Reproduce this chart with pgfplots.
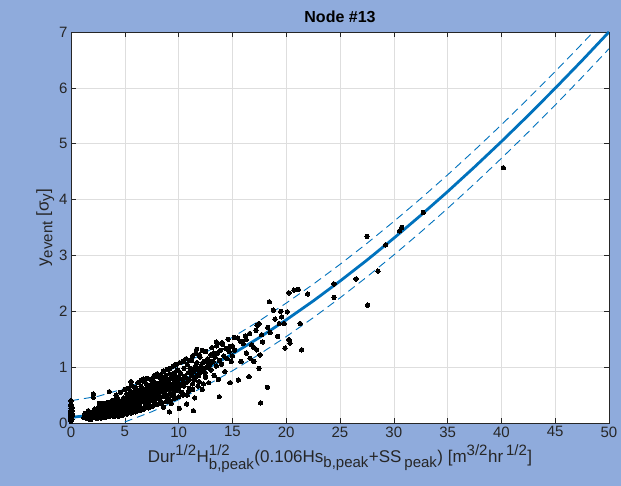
\documentclass[border=0pt]{standalone}
\usepackage{pgfplots}
\pgfplotsset{compat=1.18}
\usepackage{amsmath}
\usepackage{fontspec}
\setmainfont{Liberation Sans}
\DeclareMathSizes{17}{17}{15}{12}
\definecolor{bgc}{RGB}{143,171,220}
\definecolor{mblue}{RGB}{0,114,189}
\definecolor{axc}{RGB}{38,38,38}
\begin{document}
\begin{tikzpicture}
\fill[bgc] (0,0) rectangle (621pt,486pt);
\begin{axis}[at={(71pt,63pt)}, anchor=south west, scale only axis,
  width=538pt, height=391pt,
  xmin=0, xmax=50, ymin=0, ymax=7,
  xtick={0,5,...,50}, ytick={0,1,...,7},
  grid=major, grid style={color=black!13, line width=0.6pt},
  axis background/.style={fill=white},
  tick align=inside, major tick length=5pt,
  axis line style={axc, line width=0.6pt},
  tick style={axc, line width=0.6pt},
  /pgf/number format/assume math mode=true,
  ticklabel style={font=\fontsize{15}{18}\selectfont, text=axc},
  label style={font=\fontsize{17}{20}\selectfont, text=axc},
  xlabel style={yshift=-1pt},
  ylabel style={yshift=-2pt},
  title style={font=\fontsize{16}{19}\selectfont\bfseries},
  title={Node \#13},
  xlabel={Dur$^{\text{1/2}}$H$^{\text{1/2}}_{\text{b,peak}}$(0.106Hs$_{\text{b,peak}}$+SS\,$_{\text{peak}}$) [m$^{\text{3/2}}$hr\,$^{\text{1/2}}$]},
  ylabel={y$_{\text{event}}$ [σ$_{\text{y}}$]},
]
\addplot[only marks, mark=*, mark size=2.2pt, black, mark options={line width=0pt}] coordinates {
(0,0.03)(0,0.05)(0,0.08)(0,0.1)(0,0.12)(0,0.15)(0,0.18)(0,0.2)(0,0.23)(0,0.26)(0,0.3)(0,0.33)(0,0.4)(0.1,0.07)(0.1,0.13)(0.1,0.17)(0.1,0.22)(0.1,0.28)
(1.2,0.1)(1.4,0.13)(1.5,0.08)(1.6,0.15)(1.7,0.11)(1.8,0.17)(1.9,0.09)(2.0,0.14)(2.0,0.2)(2.1,0.12)(2.07,0.52)(2.07,0.46)(2.2,0.16)(2.3,0.1)(2.4,0.19)(2.5,0.13)(2.5,0.23)(2.63,0.35)(3.56,0.56)(4.18,0.44)(5.58,0.74)(6.72,0.79)(7.96,0.83)
(2.2,0.25)(2.4,0.08)(2.6,0.3)(2.8,0.09)(3.0,0.35)(3.2,0.1)(3.4,0.37)(3.6,0.12)(3.8,0.4)(4.0,0.12)(1.6,0.22)(1.8,0.06)(1.3,0.17)
(2.6,0.15)(2.6,0.24)(2.7,0.19)(2.7,0.12)(2.8,0.27)(2.8,0.17)(2.9,0.21)(2.9,0.14)(3.0,0.3)(3.0,0.18)(3.1,0.23)(3.1,0.13)(3.2,0.26)(3.2,0.2)(3.3,0.16)(3.3,0.34)(3.4,0.22)(3.4,0.28)(3.5,0.15)(3.5,0.25)(3.6,0.31)(3.6,0.19)(3.7,0.24)(3.7,0.38)(3.8,0.17)(3.8,0.27)(3.9,0.22)(3.9,0.33)(4.0,0.2)(4.0,0.29)(4.1,0.25)(4.1,0.16)(4.2,0.36)(4.2,0.23)(4.3,0.28)(4.3,0.19)(4.4,0.31)(4.4,0.42)(4.5,0.24)(4.5,0.2)(4.6,0.34)(4.6,0.27)(4.7,0.22)(4.7,0.39)(4.8,0.3)(4.8,0.18)(4.9,0.26)(4.9,0.45)(5.0,0.33)(5.0,0.23)
(3.05,0.11)(3.25,0.29)(3.45,0.18)(3.65,0.26)(3.85,0.36)(4.05,0.13)(4.25,0.31)(4.45,0.26)(4.65,0.17)(4.85,0.35)(5.05,0.45)(5.25,0.27)(5.45,0.5)(5.65,0.37)(5.85,0.22)(6.05,0.53)(6.25,0.31)(6.45,0.58)(6.65,0.48)(6.85,0.28)(7.05,0.62)(7.25,0.37)(7.45,0.52)(7.65,0.7)(7.85,0.44)(8.05,0.66)(8.25,0.55)(8.45,0.36)(8.65,0.79)(8.85,0.48)(9.05,0.7)(9.25,0.5)(9.45,0.86)(9.65,0.68)(9.85,0.58)
(4.2,0.5)(4.6,0.55)(5.0,0.6)(5.3,0.62)(5.6,0.68)(5.9,0.64)(6.2,0.72)(6.5,0.76)(6.8,0.74)(7.1,0.8)(7.4,0.78)(7.7,0.84)(8.0,0.88)(8.3,0.86)(8.6,0.93)(8.9,0.96)(9.2,0.98)(9.5,1.02)(9.8,1.05)(10.1,1.08)(10.4,1.1)(10.7,1.15)(11.0,1.12)(11.3,1.2)(11.6,1.25)(11.9,1.22)(12.2,1.3)
(4.4,0.12)(4.8,0.14)(5.2,0.16)(5.6,0.18)(6.0,0.2)(6.4,0.22)(6.8,0.26)(7.2,0.27)(7.6,0.3)(8.0,0.33)(8.4,0.35)(8.8,0.38)(9.2,0.4)(9.6,0.44)(10.0,0.47)(10.4,0.5)(10.9,0.56)(11.3,0.6)(11.8,0.66)(12.3,0.7)
(10.15,0.9)(10.35,0.68)(10.55,0.82)(10.85,0.75)(11.05,0.98)(11.25,0.92)(11.45,0.78)(11.65,1.0)(11.85,0.85)(12.05,0.98)(12.25,1.08)(12.45,0.9)(12.65,1.1)(12.85,0.98)(13.05,1.1)(13.25,1.25)
(5.1,0.28)(5.1,0.4)(5.2,0.35)(5.2,0.52)(5.3,0.22)(5.3,0.31)(5.4,0.44)(5.4,0.37)(5.5,0.29)(5.5,0.58)(5.6,0.41)(5.6,0.33)(5.7,0.25)(5.7,0.48)(5.8,0.38)(5.8,0.55)(5.9,0.3)(5.9,0.43)(6.0,0.36)(6.0,0.62)(6.1,0.46)(6.1,0.27)(6.2,0.4)(6.2,0.51)(6.3,0.34)(6.3,0.57)(6.4,0.44)(6.4,0.3)(6.5,0.49)(6.5,0.66)(6.6,0.38)(6.6,0.54)(6.7,0.45)(6.7,0.24)(6.8,0.6)(6.8,0.42)(6.9,0.5)(6.9,0.35)(7.0,0.56)(7.0,0.7)(7.1,0.47)(7.1,0.39)(7.2,0.62)(7.2,0.53)(7.3,0.44)(7.3,0.3)(7.4,0.58)(7.4,0.68)(7.5,0.5)(7.5,0.41)
(7.6,0.63)(7.6,0.55)(7.7,0.46)(7.7,0.74)(7.8,0.59)(7.8,0.35)(7.9,0.66)(7.9,0.52)(8.0,0.6)(8.0,0.45)(8.1,0.71)(8.1,0.56)(8.2,0.5)(8.2,0.82)(8.3,0.64)(8.3,0.4)(8.4,0.58)(8.4,0.76)(8.5,0.68)(8.5,0.47)(8.6,0.62)(8.6,0.28)(8.7,0.72)(8.7,0.55)(8.8,0.85)(8.8,0.6)(8.9,0.5)(8.9,0.69)(9.0,0.78)(9.0,0.64)(9.1,0.42)(9.1,0.73)(9.2,0.58)(9.2,0.88)(9.3,0.66)(9.3,0.35)(9.4,0.8)(9.4,0.62)(9.5,0.7)(9.5,0.52)(9.6,0.9)(9.6,0.75)(9.7,0.6)(9.7,0.45)(9.8,0.83)(9.8,0.68)(9.9,0.74)(9.9,0.95)(10.0,0.63)(10.0,0.8)
(10.1,0.7)(10.2,0.88)(10.3,0.55)(10.4,0.78)(10.5,0.98)(10.5,0.66)(10.6,0.84)(10.7,0.72)(10.8,1.05)(10.8,0.5)(10.9,0.9)(11.0,0.78)(11.0,0.62)(11.1,0.95)(11.2,0.85)(11.2,1.12)(11.3,0.7)(11.4,0.92)(11.5,1.0)(11.5,0.45)(11.6,0.82)(11.7,1.08)(11.8,0.95)(11.9,0.74)(12.0,1.18)(12.0,0.9)(12.1,1.02)(12.2,0.6)(12.3,0.95)(12.4,1.1)(12.5,1.28)(12.5,0.82)(12.6,1.0)(12.7,1.15)(12.8,0.72)(12.9,1.05)(13.0,1.22)(13.0,0.95)(13.1,1.35)(13.2,1.1)(13.3,0.85)(13.4,1.18)(13.5,1.02)(13.5,1.45)(13.6,1.25)(13.7,0.78)(13.8,1.12)(13.9,1.3)(14.0,1.05)(14.1,1.4)(14.2,1.2)(14.3,0.92)(14.4,1.33)(14.5,1.15)(14.6,1.5)(14.7,1.28)(14.8,0.72)(14.9,1.1)(15.0,1.38)(15.0,1.2)
(10.07,0.26)(11.37,0.22)(10.75,0.34)(13.78,0.47)(9.14,0.2)(11.68,1.32)(13.54,1.38)(14.0,1.43)(15.18,1.53)(17.19,1.66)(17.47,1.78)
(15.2,1.3)(15.5,1.52)(15.8,1.1)(16.0,1.42)(16.3,1.25)(16.6,1.6)(17.0,1.35)(17.3,1.75)(17.8,1.45)(18.5,1.62)(18.8,2.02)(19.2,1.55)(19.5,2.0)
(20.26,2.33)(20.72,2.38)(21.13,2.39)(22.0,2.31)(18.43,2.17)(20.1,1.99)(19.58,1.9)(19.8,1.78)(18.96,1.86)(19.36,1.78)(18.28,1.71)(17.72,1.58)(16.2,1.56)(16.79,1.4)(15.77,1.46)(16.26,1.49)(17.26,1.31)(17.57,1.22)(16.64,1.16)(17.0,1.1)(17.47,0.98)(16.54,0.83)(19.89,1.34)(20.35,1.43)(20.26,1.49)(21.44,1.31)(18.25,0.64)(17.63,0.36)(15.55,0.77)(14.78,0.72)(14.06,1.43)(14.78,1.37)
(21.3,1.78)(24.44,2.49)(24.44,2.25)(26.49,2.58)(27.57,2.11)(27.51,3.34)(28.53,2.72)(29.24,3.19)(30.54,3.44)(30.73,3.5)(32.74,3.77)(40.18,4.57)
};
\addplot[mblue, line width=0.9pt, dash pattern=on 8pt off 5pt] coordinates {
(0,0.4)(2.5,0.477)(5,0.618)(7.5,0.801)(10,1.017)(12.5,1.263)(15,1.534)(17.5,1.829)(20,2.146)(22.5,2.483)(25,2.84)(27.5,3.215)(30,3.608)(32.5,4.017)(35,4.442)(37.5,4.883)(40,5.338)(42.5,5.808)(45,6.293)(47.5,6.79)(50,7.3)
};
\addplot[mblue, line width=0.9pt, dash pattern=on 8pt off 5pt] coordinates {
(5,0.018)(7.5,0.201)(10,0.417)(12.5,0.663)(15,0.934)(17.5,1.229)(20,1.546)(22.5,1.883)(25,2.24)(27.5,2.615)(30,3.008)(32.5,3.417)(35,3.842)(37.5,4.283)(40,4.738)(42.5,5.208)(45,5.693)(47.5,6.19)(50,6.7)
};
\addplot[mblue, line width=2.8pt] coordinates {
(0,0.1)(1.25,0.127)(2.5,0.177)(5,0.318)(7.5,0.501)(10,0.717)(12.5,0.963)(15,1.234)(17.5,1.529)(20,1.846)(22.5,2.183)(25,2.54)(27.5,2.915)(30,3.308)(32.5,3.717)(35,4.142)(37.5,4.583)(40,5.038)(42.5,5.508)(45,5.993)(47.5,6.49)(50,7.001)
};
\end{axis}
\pgfresetboundingbox
\path[use as bounding box] (0,0) rectangle (621pt,486pt);
\end{tikzpicture}
\end{document}
